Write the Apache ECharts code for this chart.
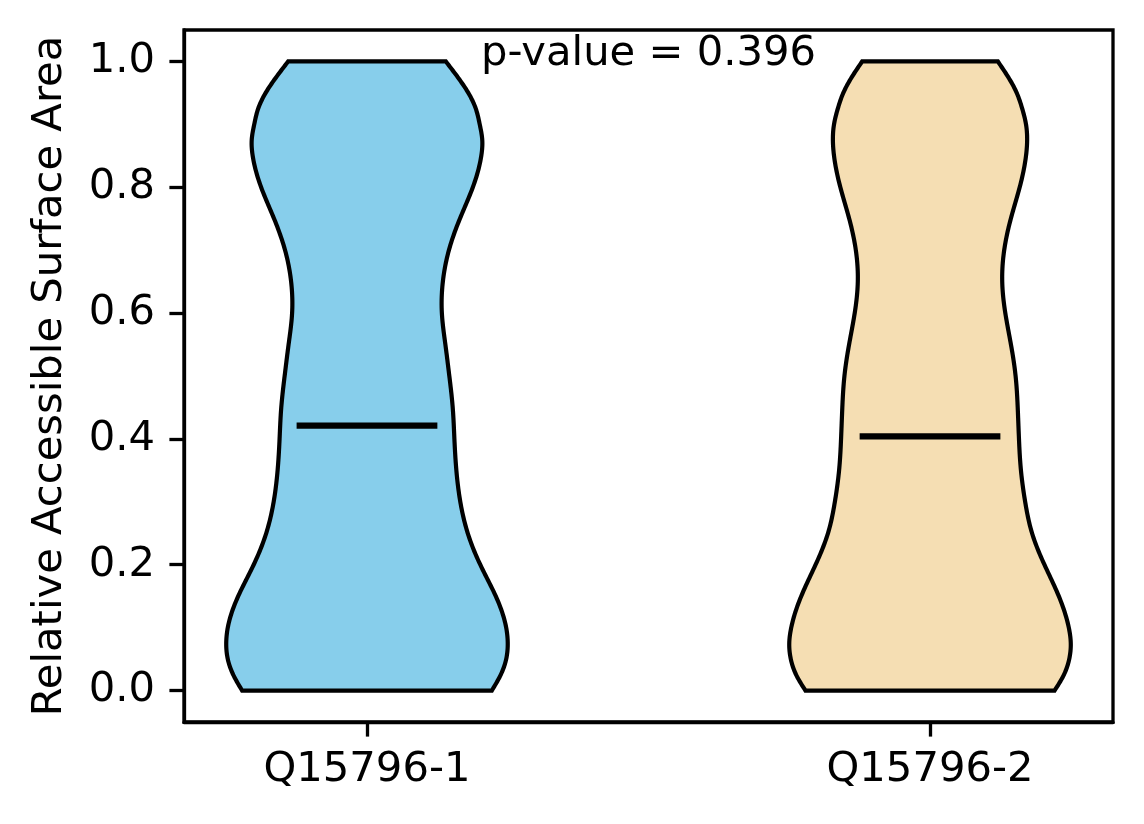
<!DOCTYPE html>
<html><head><meta charset="utf-8">
<script src="https://cdn.jsdelivr.net/npm/echarts@6/dist/echarts.min.js"></script>
<style>html,body{margin:0;padding:0;background:#fff}#c{width:1144px;height:824px}</style>
</head><body><div id="c"></div>
<script>
// ---- data ----
const categories = ['Q15796-1', 'Q15796-2'];
const positions = [1, 2];
const yLevels = [0, 0.025, 0.05, 0.075, 0.1, 0.15, 0.2, 0.25, 0.3, 0.35, 0.4, 0.45, 0.5,
  0.55, 0.6, 0.65, 0.7, 0.75, 0.8, 0.85, 0.875, 0.9, 0.925, 0.95, 0.975, 1.0];
// relative density (max = 1) of each violin at yLevels
const density1 = [0.887, 0.950, 0.989, 1.000, 0.989, 0.915, 0.805, 0.716, 0.663, 0.635, 0.621, 0.609, 0.585,
  0.557, 0.532, 0.539, 0.582, 0.660, 0.752, 0.812, 0.819, 0.801, 0.773, 0.720, 0.645, 0.560];
const density2 = [0.885, 0.951, 0.989, 1.000, 0.986, 0.915, 0.813, 0.725, 0.676, 0.646, 0.632, 0.623, 0.608,
  0.575, 0.535, 0.513, 0.527, 0.574, 0.637, 0.682, 0.690, 0.682, 0.655, 0.616, 0.556, 0.482];
const means = [0.421, 0.404];
const yTicks = [0, 0.2, 0.4, 0.6, 0.8, 1.0];
const pValueText = 'p-value = 0.396';
const yLabel = 'Relative Accessible Surface Area';
const colors = ['#87CEEB', '#F5DEB3'];

const densities = [density1, density2];
const VIOLIN_WIDTH = 0.5;
const FONT = 'DejaVu Sans';
const FS = 41.7;

// natural cubic spline sampling of a profile (rendering only)
function smoothProfile(xs, ys, steps) {
  const n = xs.length, h = [], al = [], l = [1], mu = [0], z = [0];
  for (let i = 0; i < n - 1; i++) h.push(xs[i + 1] - xs[i]);
  for (let i = 1; i < n - 1; i++) al[i] = 3 / h[i] * (ys[i + 1] - ys[i]) - 3 / h[i - 1] * (ys[i] - ys[i - 1]);
  for (let i = 1; i < n - 1; i++) {
    l[i] = 2 * (xs[i + 1] - xs[i - 1]) - h[i - 1] * mu[i - 1];
    mu[i] = h[i] / l[i];
    z[i] = (al[i] - h[i - 1] * z[i - 1]) / l[i];
  }
  const c = new Array(n).fill(0), b = [], d = [];
  for (let j = n - 2; j >= 0; j--) {
    c[j] = (j === 0 ? 0 : z[j] - mu[j] * c[j + 1]);
    b[j] = (ys[j + 1] - ys[j]) / h[j] - h[j] * (c[j + 1] + 2 * c[j]) / 3;
    d[j] = (c[j + 1] - c[j]) / (3 * h[j]);
  }
  const out = [];
  for (let i = 0; i < n - 1; i++) {
    for (let s = 0; s < steps; s++) {
      const t = h[i] * s / steps;
      out.push([xs[i] + t, ys[i] + b[i] * t + c[i] * t * t + d[i] * t * t * t]);
    }
  }
  out.push([xs[n - 1], ys[n - 1]]);
  return out;
}

const chart = echarts.init(document.getElementById('c'), null, { renderer: 'canvas' });
const option = {
  animation: false,
  backgroundColor: '#fff',
  grid: { left: 184, right: 31, top: 30, bottom: 102, show: true, borderColor: '#000', borderWidth: 3.3, backgroundColor: 'transparent' },
  xAxis: {
    type: 'value', min: 0.675, max: 2.325,
    splitLine: { show: false },
    axisLine: { show: true, onZero: false, lineStyle: { color: '#000', width: 3.3 } },
    axisTick: { show: true, customValues: positions, length: 14.6, lineStyle: { color: '#000', width: 3.3 } },
    axisLabel: { customValues: positions, formatter: v => categories[Math.round(v) - 1] || '', fontFamily: FONT, fontSize: FS, color: '#000', margin: 27 }
  },
  yAxis: {
    type: 'value', min: -0.05, max: 1.05,
    splitLine: { show: false },
    axisLine: { show: true, onZero: false, lineStyle: { color: '#000', width: 3.3 } },
    axisTick: { show: true, customValues: yTicks, length: 14.6, lineStyle: { color: '#000', width: 3.3 } },
    axisLabel: { customValues: yTicks, formatter: v => v.toFixed(1), fontFamily: FONT, fontSize: FS, color: '#000', margin: 29 }
  },
  graphic: [{
    type: 'text', x: 50, y: 376, rotation: Math.PI / 2,
    style: { text: yLabel, fontFamily: FONT, fontSize: FS, fill: '#000', align: 'center', verticalAlign: 'middle' }
  }],
  series: [
    {
      type: 'custom', coordinateSystem: 'cartesian2d', z: 2,
      data: positions.map((p, i) => [p, means[i]]),
      renderItem: function (params, api) {
        const i = params.dataIndex, pos = positions[i];
        const prof = smoothProfile(yLevels, densities[i], 12);
        const half = VIOLIN_WIDTH / 2;
        const left = prof.map(([y, d]) => api.coord([pos - d * half, y]));
        const right = prof.map(([y, d]) => api.coord([pos + d * half, y])).reverse();
        return {
          type: 'polygon',
          shape: { points: left.concat(right) },
          style: { fill: colors[i], stroke: '#000', lineWidth: 4.2, lineJoin: 'miter' }
        };
      }
    },
    {
      type: 'custom', coordinateSystem: 'cartesian2d', z: 3,
      data: positions.map((p, i) => [p, means[i]]),
      renderItem: function (params, api) {
        const i = params.dataIndex, pos = positions[i];
        const a = api.coord([pos - VIOLIN_WIDTH / 4, means[i]]);
        const b = api.coord([pos + VIOLIN_WIDTH / 4, means[i]]);
        return {
          type: 'line', shape: { x1: a[0], y1: a[1], x2: b[0], y2: b[1] },
          style: { stroke: '#000', lineWidth: 6.2 }
        };
      }
    },
    {
      type: 'custom', coordinateSystem: 'cartesian2d', z: 4,
      data: [[(positions[0] + positions[1]) / 2, 1.0]],
      renderItem: function (params, api) {
        const c = api.coord([api.value(0), api.value(1)]);
        return {
          type: 'text', x: c[0], y: c[1] - 7,
          style: { text: pValueText, fontFamily: FONT, fontSize: FS, fill: '#000', align: 'center', verticalAlign: 'middle' }
        };
      }
    }
  ]
};
chart.setOption(option);
</script></body></html>
